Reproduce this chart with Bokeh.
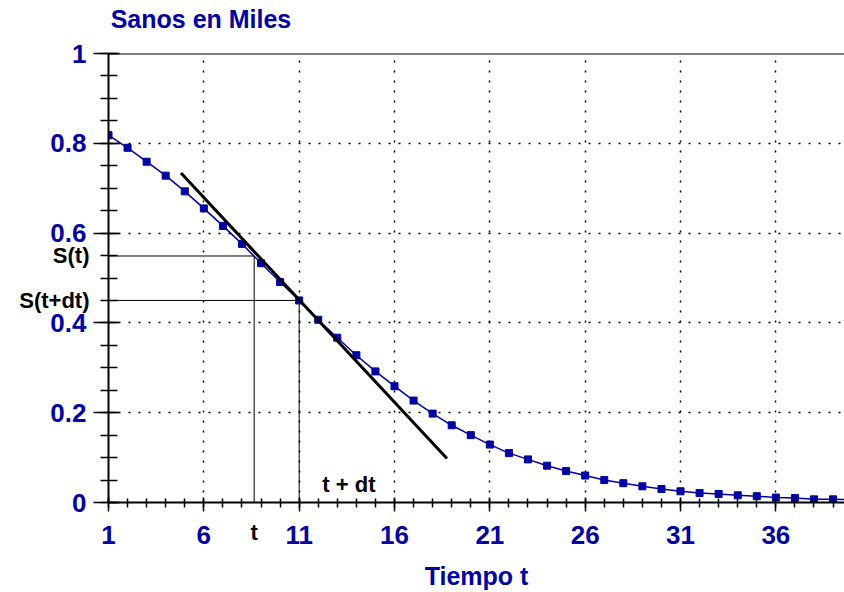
from bokeh.plotting import figure
from bokeh.models import Range1d, FixedTicker, Span, Label, LinearAxis
from bokeh.embed import file_html
from bokeh.resources import INLINE

# ---- data ----
tiempo = list(range(1, 41))
sanos = [0.818, 0.790, 0.759, 0.728, 0.693, 0.655, 0.616, 0.576, 0.533, 0.491,
         0.450, 0.407, 0.367, 0.328, 0.292, 0.259, 0.227, 0.198, 0.172, 0.150,
         0.129, 0.110, 0.096, 0.082, 0.070, 0.060, 0.050, 0.043, 0.036, 0.030,
         0.025, 0.021, 0.019, 0.016, 0.014, 0.011, 0.010, 0.007, 0.007, 0.006]
tangent_x = [4.8, 18.75]
tangent_y = [0.734, 0.098]
t_val = 8.64
s_t = 0.549
tdt_val = 11
s_tdt = 0.450
x_major = [1, 6, 11, 16, 21, 26, 31, 36]
x_minor = list(range(1, 41))
y_major = [0, 0.2, 0.4, 0.6, 0.8, 1.0]
y_minor = [round(i * 0.05, 2) for i in range(21)]
titulo = "Sanos en Miles"
titulo_x = 5.85

BLUE = "#0000A8"
FONT = "Liberation Sans"

p = figure(width=844, height=592, output_backend="svg", toolbar_location=None,
           x_range=Range1d(1, 39.6), y_range=Range1d(0, 1),
           min_border_left=108, min_border_right=0, min_border_top=53,
           min_border_bottom=89)
p.title = None
p.outline_line_color = None
p.background_fill_color = "white"

for ax, maj, mino in ((p.xaxis[0], x_major, x_minor), (p.yaxis[0], y_major, y_minor)):
    ax.ticker = FixedTicker(ticks=maj, minor_ticks=mino)
    ax.axis_line_color = "black"
    ax.axis_line_width = 2
    ax.major_tick_line_color = "black"
    ax.major_tick_line_width = 1.5
    ax.minor_tick_line_color = "black"
    ax.minor_tick_line_width = 1.5
    ax.major_label_text_color = BLUE
    ax.major_label_text_font = FONT
    ax.major_label_text_font_style = "bold"
    ax.major_label_text_font_size = "26px"

p.xaxis[0].major_tick_in = 5
p.xaxis[0].major_tick_out = 9
p.xaxis[0].minor_tick_in = 4
p.xaxis[0].minor_tick_out = 5
p.xaxis[0].major_label_standoff = 14
p.xaxis[0].axis_label = "Tiempo t"
p.xaxis[0].axis_label_text_color = BLUE
p.xaxis[0].axis_label_text_font = FONT
p.xaxis[0].axis_label_text_font_style = "bold"
p.xaxis[0].axis_label_text_font_size = "25px"
p.xaxis[0].axis_label_standoff = 15
p.yaxis[0].major_tick_in = 11
p.yaxis[0].major_tick_out = 15
p.yaxis[0].minor_tick_in = 9
p.yaxis[0].minor_tick_out = 8
p.yaxis[0].major_label_standoff = 7
p.yaxis[0].major_label_overrides = {0: "0", 1: "1"}

# axes that carry the texts placed outside the frame
def text_axis(axis, ticks, labels, standoff, color="black", size="22px", align=None):
    axis.ticker = FixedTicker(ticks=ticks, minor_ticks=[])
    axis.major_label_overrides = dict(zip(ticks, labels))
    axis.axis_line_color = None
    axis.major_tick_line_color = None
    axis.minor_tick_line_color = None
    axis.major_tick_out = 0
    axis.major_tick_in = 0
    axis.major_label_standoff = standoff
    axis.major_label_text_color = color
    axis.major_label_text_font = FONT
    axis.major_label_text_font_style = "bold"
    axis.major_label_text_font_size = size
    if align:
        axis.major_label_text_align = align
    return axis

yl = text_axis(LinearAxis(), [s_t, s_tdt], ["S(t)", "S(t+dt)"], -42, align="center")
p.add_layout(yl, "left")
xl = text_axis(LinearAxis(), [t_val], ["t"], -73)
p.add_layout(xl, "below")
tl = text_axis(LinearAxis(), [titulo_x], [titulo], 21, color=BLUE, size="25px")
p.add_layout(tl, "above")

for g in (p.xgrid[0], p.ygrid[0]):
    g.grid_line_color = "black"
    g.grid_line_dash = "2 8"
    g.grid_line_width = 1.5

p.add_layout(Span(location=1, dimension="width", line_color="black", line_width=2))

# guide lines
p.line([1, t_val], [s_t, s_t], line_color="black", line_width=1)
p.line([t_val, t_val], [0, s_t], line_color="black", line_width=1)
p.line([1, tdt_val], [s_tdt, s_tdt], line_color="black", line_width=1)
p.line([tdt_val, tdt_val], [0, s_tdt], line_color="black", line_width=1)

# curve
p.line(tiempo, sanos, line_color=BLUE, line_width=1.5)
p.scatter(tiempo, sanos, marker="square", size=7, fill_color=BLUE, line_color=BLUE)

# tangent
p.line(tangent_x, tangent_y, line_color="black", line_width=3)

p.add_layout(Label(x=13.61, y=0.04, text="t + dt", text_color="black",
                   text_font=FONT, text_font_style="bold", text_font_size="22px",
                   text_align="center", text_baseline="middle"))

open("out.html", "w").write(file_html(p, INLINE))
